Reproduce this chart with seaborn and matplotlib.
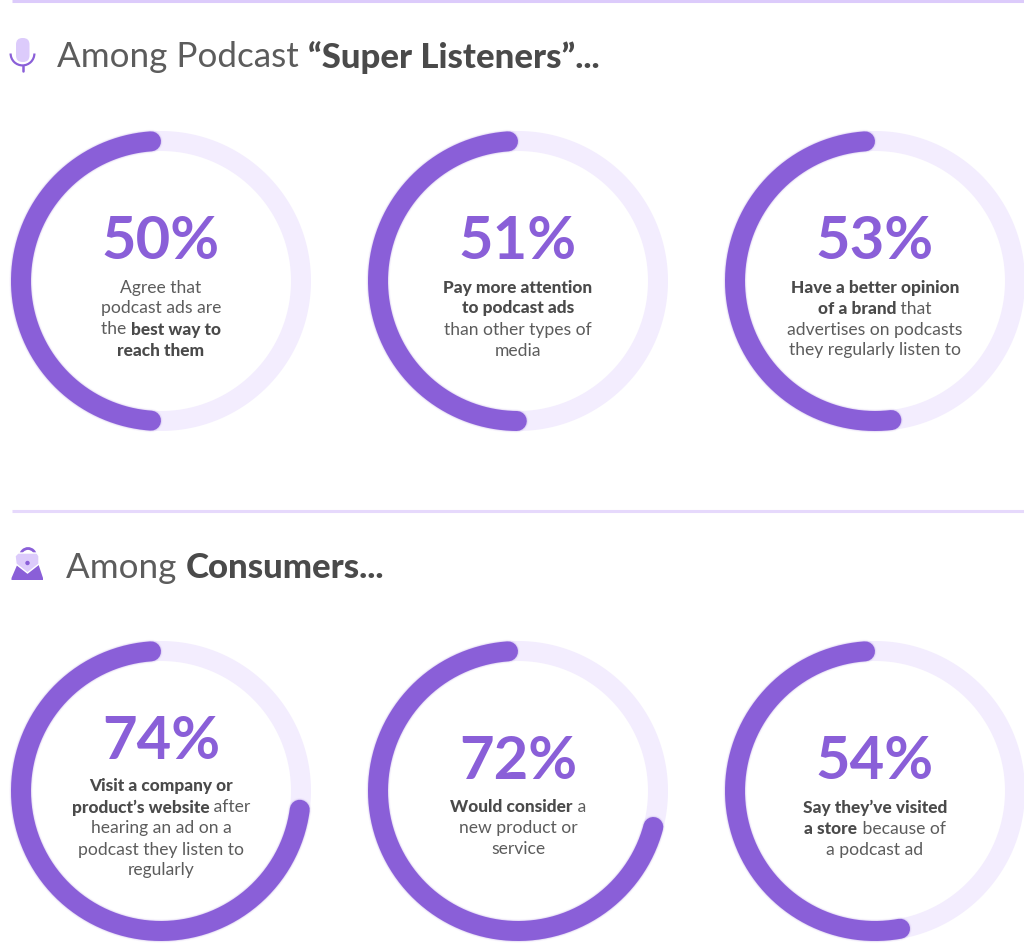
import numpy as np
import pandas as pd
import matplotlib.pyplot as plt
import seaborn as sns
from matplotlib.patches import Circle, FancyBboxPatch, Polygon, Wedge

# values
percents = [50, 51, 53, 74, 72, 54]
heading_top = [('Among Podcast ', False), ('“Super Listeners”...', True)]
heading_bottom = [('Among ', False), ('Consumers...', True)]

caption_1 = [[('Agree that', False)], [('podcast ads are', False)],
             [('the ', False), ('best way to', True)], [('reach them', True)]]
caption_2 = [[('Pay more attention', True)], [('to podcast ads', True)],
             [('than other types of', False)], [('media', False)]]
caption_3 = [[('Have a better opinion', True)], [('of a brand', True), (' that', False)],
             [('advertises on podcasts', False)], [('they regularly listen to', False)]]
caption_4 = [[('Visit a company or', True)], [('product’s website', True), (' after', False)],
             [('hearing an ad on a', False)], [('podcast they listen to', False)],
             [('regularly', False)]]
caption_5 = [[('Would consider', True), (' a', False)], [('new product or', False)],
             [('service', False)]]
caption_6 = [[('Say they’ve visited', True)], [('a store', True), (' because of', False)],
             [('a podcast ad', False)]]
captions = [caption_1, caption_2, caption_3, caption_4, caption_5, caption_6]

# layout in reference pixels
W, H = 1024, 952
centers = [(161, 281), (518, 281), (875, 281), (161, 791), (518, 791), (875, 791)]
percent_y = [237, 237, 237, 737, 757, 757]
first_line_y = [286, 286, 286, 785, 806, 806]

PURPLE = '#8a5fd8'
TRACK = '#f3edfe'
RULE = '#e6d9fc'
LILAC = '#dccbfb'
TEXT = '#4a4a4a'
TEXT_LIGHT = '#5c5c5c'

sns.set_theme(style='white')
plt.rcParams['font.family'] = ['Lato', 'DejaVu Sans']

fig = plt.figure(figsize=(W / 100, H / 100), dpi=100, facecolor='white')

# overlay in pixel coordinates for headings, rules and icons
page = fig.add_axes([0, 0, 1, 1], zorder=5)
page.set_xlim(0, W)
page.set_ylim(H, 0)
page.axis('off')
page.patch.set_alpha(0)


def draw_runs(runs, x, y, size, bold_size, centered=True):
    # one line of mixed regular and bold text
    renderer = fig.canvas.get_renderer()
    texts = []
    total = 0
    for part, bold in runs:
        t = page.text(0, y, part.replace(' ', '\u00a0'), fontsize=bold_size if bold else size,
                      color=TEXT if bold else TEXT_LIGHT,
                      fontweight='black' if bold else 'normal',
                      va='center_baseline', ha='left')
        width = t.get_window_extent(renderer).width
        texts.append((t, width))
        total += width
    left = x - total / 2 if centered else x
    for t, width in texts:
        t.set_x(left)
        left += width


def draw_ring(cx, cy, value):
    ax = fig.add_axes([(cx - 170) / W, 1 - (cy + 170) / H, 340 / W, 340 / H],
                      projection='polar')
    ax.set_theta_zero_location('N')
    ax.set_theta_direction(1)
    ax.set_ylim(0, 170)
    ax.axis('off')
    ax.patch.set_alpha(0)

    # the round caps sit inside the arc, so pull both ends in by the cap radius
    inset = 10 / 140
    circle = pd.DataFrame({'theta': np.linspace(0, 2 * np.pi, 361), 'r': 140})
    arc = pd.DataFrame({'theta': np.linspace(inset, 2 * np.pi * value / 100 - inset, 300),
                        'r': 140})

    sns.lineplot(data=circle, x='theta', y='r', ax=ax, color=TRACK, lw=14.4,
                 sort=False, estimator=None)
    # soft glow under the arc
    for lw, alpha in [(17, 0.04), (16, 0.07), (15.2, 0.1)]:
        sns.lineplot(data=arc, x='theta', y='r', ax=ax, color=PURPLE, lw=lw, alpha=alpha,
                     sort=False, estimator=None, solid_capstyle='round')
    sns.lineplot(data=arc, x='theta', y='r', ax=ax, color=PURPLE, lw=14.4,
                 sort=False, estimator=None, solid_capstyle='round')
    ax.set_xlabel('')
    ax.set_ylabel('')


for i, value in enumerate(percents):
    cx, cy = centers[i]
    draw_ring(cx, cy, value)
    page.text(cx, percent_y[i], f'{value}%', fontsize=43, fontweight='bold', color=PURPLE,
              ha='center', va='center_baseline')
    for j, line in enumerate(captions[i]):
        draw_runs(line, cx, first_line_y[i] + j * 21, 12.6, 12.4)

# rules
page.plot([12, W], [1, 1], color=LILAC, lw=2.2, solid_capstyle='butt')
page.plot([12, W], [510.5, 510.5], color=RULE, lw=2.2, solid_capstyle='butt')

# headings
draw_runs(heading_top, 57, 54, 25.2, 25, centered=False)
draw_runs(heading_bottom, 66, 565, 25.2, 25, centered=False)

# microphone icon
page.add_patch(FancyBboxPatch((16, 38), 13.5, 24, boxstyle='round,pad=0,rounding_size=6.5',
                              fc=LILAC, ec='none'))
page.add_patch(Wedge((22.5, 53.5), 13, 0, 180, width=2.2, fc=PURPLE, ec='none'))
page.plot([22.5, 22.5], [66, 71], color=PURPLE, lw=1.8, solid_capstyle='round')

# handbag icon
page.add_patch(Circle((28, 556), 7.5, fc='none', ec=PURPLE, lw=2))
page.add_patch(Polygon([[11.5, 578], [18, 563], [38, 563], [43, 578], [43, 580], [11.5, 580]],
                       fc=PURPLE, ec='none'))
page.add_patch(Polygon([[15, 556], [18, 553], [37, 553], [39, 556], [39, 564], [27.5, 573],
                        [16, 564]], fc=LILAC, ec='white', lw=1))
page.add_patch(Circle((27.5, 563), 2.2, fc=PURPLE, ec='none'))

fig.savefig('out.png', dpi=100, facecolor='white')
